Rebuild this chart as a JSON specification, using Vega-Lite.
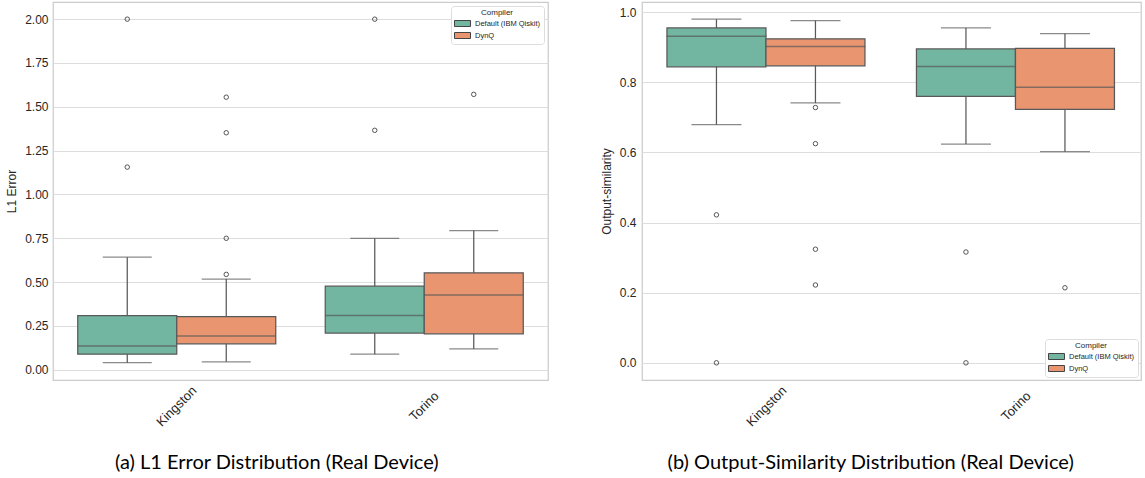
{
  "$schema": "https://vega.github.io/schema/vega-lite/v6.json",
  "background": "white",
  "padding": {"left": 5, "top": 1, "right": 5, "bottom": 5},
  "spacing": 50,
  "config": {
    "view": {"stroke": "#cccccc", "strokeWidth": 1.25},
    "axis": {"labelFont": "Liberation Sans", "titleFont": "Liberation Sans", "labelColor": "#262626", "titleColor": "#262626", "labelFontSize": 12, "titleFontSize": 12, "titleFontWeight": "normal", "domain": false, "ticks": false, "gridColor": "#dddddd", "gridWidth": 1},
    "legend": {"titleFont": "Liberation Sans", "labelFont": "Liberation Sans", "titleFontSize": 8, "labelFontSize": 7.5, "titleFontWeight": "normal", "titleColor": "#262626", "labelColor": "#262626", "symbolType": "M-1,-0.75H3V0.75H-1Z", "symbolSize": 64, "symbolStrokeColor": "#444444", "symbolStrokeWidth": 1, "fillColor": "white", "strokeColor": "#dddddd", "cornerRadius": 3, "padding": 3, "rowPadding": 1, "labelOffset": 12, "titleAnchor": "middle", "titlePadding": 2},
    "title": {"font": "Lato", "fontSize": 20, "fontWeight": "normal", "color": "#000000", "frame": "bounds", "anchor": "middle"}
  },
  "datasets": {
    "l1box": [
      {"device": "Kingston", "compiler": "Default (IBM Qiskit)", "lo": 0.040, "q1": 0.089, "med": 0.136, "q3": 0.309, "hi": 0.642},
      {"device": "Kingston", "compiler": "DynQ", "lo": 0.045, "q1": 0.148, "med": 0.193, "q3": 0.303, "hi": 0.517},
      {"device": "Torino", "compiler": "Default (IBM Qiskit)", "lo": 0.089, "q1": 0.209, "med": 0.309, "q3": 0.477, "hi": 0.750},
      {"device": "Torino", "compiler": "DynQ", "lo": 0.119, "q1": 0.205, "med": 0.426, "q3": 0.553, "hi": 0.794}
    ],
    "l1out": [
      {"device": "Kingston", "compiler": "Default (IBM Qiskit)", "value": 2.0},
      {"device": "Kingston", "compiler": "Default (IBM Qiskit)", "value": 1.156},
      {"device": "Kingston", "compiler": "DynQ", "value": 0.75},
      {"device": "Kingston", "compiler": "DynQ", "value": 0.544},
      {"device": "Kingston", "compiler": "DynQ", "value": 1.352},
      {"device": "Kingston", "compiler": "DynQ", "value": 1.555},
      {"device": "Torino", "compiler": "Default (IBM Qiskit)", "value": 2.0},
      {"device": "Torino", "compiler": "Default (IBM Qiskit)", "value": 1.366},
      {"device": "Torino", "compiler": "DynQ", "value": 1.571}
    ],
    "simbox": [
      {"device": "Kingston", "compiler": "Default (IBM Qiskit)", "lo": 0.679, "q1": 0.844, "med": 0.931, "q3": 0.955, "hi": 0.980},
      {"device": "Kingston", "compiler": "DynQ", "lo": 0.741, "q1": 0.847, "med": 0.902, "q3": 0.924, "hi": 0.976},
      {"device": "Torino", "compiler": "Default (IBM Qiskit)", "lo": 0.624, "q1": 0.760, "med": 0.845, "q3": 0.895, "hi": 0.955},
      {"device": "Torino", "compiler": "DynQ", "lo": 0.602, "q1": 0.723, "med": 0.786, "q3": 0.897, "hi": 0.939}
    ],
    "simout": [
      {"device": "Kingston", "compiler": "Default (IBM Qiskit)", "value": 0.422},
      {"device": "Kingston", "compiler": "Default (IBM Qiskit)", "value": 0.0},
      {"device": "Kingston", "compiler": "DynQ", "value": 0.728},
      {"device": "Kingston", "compiler": "DynQ", "value": 0.625},
      {"device": "Kingston", "compiler": "DynQ", "value": 0.324},
      {"device": "Kingston", "compiler": "DynQ", "value": 0.222},
      {"device": "Torino", "compiler": "Default (IBM Qiskit)", "value": 0.316},
      {"device": "Torino", "compiler": "Default (IBM Qiskit)", "value": 0.0},
      {"device": "Torino", "compiler": "DynQ", "value": 0.214}
    ]
  },
  "resolve": {"legend": {"color": "independent"}, "scale": {"color": "independent"}},
  "hconcat": [
    {
      "width": 495,
      "height": 378,
      "title": {"text": "(a) L1 Error Distribution (Real Device)", "orient": "bottom", "offset": 24},
      "encoding": {
        "x": {"field": "device", "type": "nominal", "title": null, "scale": {"paddingInner": 0.2, "paddingOuter": 0.1}, "axis": {"labelAngle": -45, "labelAlign": "center", "labelBaseline": "middle", "labelPadding": 26, "labelFontSize": 13, "grid": false}},
        "xOffset": {"field": "compiler", "type": "nominal", "scale": {"domain": ["Default (IBM Qiskit)", "DynQ"], "paddingInner": 0, "paddingOuter": 0}}
      },
      "layer": [
        {
          "data": {"name": "l1box"},
          "mark": {"type": "rule", "color": "#595959", "strokeWidth": 1.25},
          "encoding": {
            "y": {"field": "lo", "type": "quantitative", "scale": {"domain": [-0.0585, 2.098], "nice": false, "zero": false}, "axis": {"values": [0, 0.25, 0.5, 0.75, 1.0, 1.25, 1.5, 1.75, 2.0], "format": ".2f", "title": "L1 Error", "labelPadding": 5, "titlePadding": 6}},
            "y2": {"field": "hi"}
          }
        },
        {
          "data": {"name": "l1box"},
          "mark": {"type": "tick", "color": "#595959", "size": 49, "thickness": 1.25},
          "encoding": {"y": {"field": "lo", "type": "quantitative"}}
        },
        {
          "data": {"name": "l1box"},
          "mark": {"type": "tick", "color": "#595959", "size": 49, "thickness": 1.25},
          "encoding": {"y": {"field": "hi", "type": "quantitative"}}
        },
        {
          "data": {"name": "l1box"},
          "mark": {"type": "bar", "stroke": "#595959", "strokeWidth": 1.25},
          "encoding": {
            "y": {"field": "q1", "type": "quantitative"},
            "y2": {"field": "q3"},
            "color": {"field": "compiler", "type": "nominal", "scale": {"domain": ["Default (IBM Qiskit)", "DynQ"], "range": ["#72b6a1", "#e99570"]}, "legend": {"title": "Compiler", "orient": "top-right", "offset": 4}}
          }
        },
        {
          "data": {"name": "l1box"},
          "mark": {"type": "tick", "color": "#595959", "size": 99, "thickness": 1.5},
          "encoding": {"y": {"field": "med", "type": "quantitative"}}
        },
        {
          "data": {"name": "l1out"},
          "mark": {"type": "point", "shape": "circle", "filled": false, "size": 20, "stroke": "#555555", "strokeWidth": 1, "opacity": 1},
          "encoding": {"y": {"field": "value", "type": "quantitative"}}
        }
      ]
    },
    {
      "width": 499,
      "height": 378,
      "title": {"text": "(b) Output-Similarity Distribution (Real Device)", "orient": "bottom", "offset": 24},
      "encoding": {
        "x": {"field": "device", "type": "nominal", "title": null, "scale": {"paddingInner": 0.2, "paddingOuter": 0.1}, "axis": {"labelAngle": -45, "labelAlign": "center", "labelBaseline": "middle", "labelPadding": 26, "labelFontSize": 13, "grid": false}},
        "xOffset": {"field": "compiler", "type": "nominal", "scale": {"domain": ["Default (IBM Qiskit)", "DynQ"], "paddingInner": 0, "paddingOuter": 0}}
      },
      "layer": [
        {
          "data": {"name": "simbox"},
          "mark": {"type": "rule", "color": "#595959", "strokeWidth": 1.25},
          "encoding": {
            "y": {"field": "lo", "type": "quantitative", "scale": {"domain": [-0.049, 1.029], "nice": false, "zero": false}, "axis": {"values": [0, 0.2, 0.4, 0.6, 0.8, 1.0], "format": ".1f", "title": "Output-similarity", "labelPadding": 6, "titlePadding": 6}},
            "y2": {"field": "hi"}
          }
        },
        {
          "data": {"name": "simbox"},
          "mark": {"type": "tick", "color": "#595959", "size": 50, "thickness": 1.25},
          "encoding": {"y": {"field": "lo", "type": "quantitative"}}
        },
        {
          "data": {"name": "simbox"},
          "mark": {"type": "tick", "color": "#595959", "size": 50, "thickness": 1.25},
          "encoding": {"y": {"field": "hi", "type": "quantitative"}}
        },
        {
          "data": {"name": "simbox"},
          "mark": {"type": "bar", "stroke": "#595959", "strokeWidth": 1.25},
          "encoding": {
            "y": {"field": "q1", "type": "quantitative"},
            "y2": {"field": "q3"},
            "color": {"field": "compiler", "type": "nominal", "scale": {"domain": ["Default (IBM Qiskit)", "DynQ"], "range": ["#72b6a1", "#e99570"]}, "legend": {"title": "Compiler", "orient": "bottom-right", "offset": 3}}
          }
        },
        {
          "data": {"name": "simbox"},
          "mark": {"type": "tick", "color": "#595959", "size": 100, "thickness": 1.5},
          "encoding": {"y": {"field": "med", "type": "quantitative"}}
        },
        {
          "data": {"name": "simout"},
          "mark": {"type": "point", "shape": "circle", "filled": false, "size": 20, "stroke": "#555555", "strokeWidth": 1, "opacity": 1},
          "encoding": {"y": {"field": "value", "type": "quantitative"}}
        }
      ]
    }
  ]
}
